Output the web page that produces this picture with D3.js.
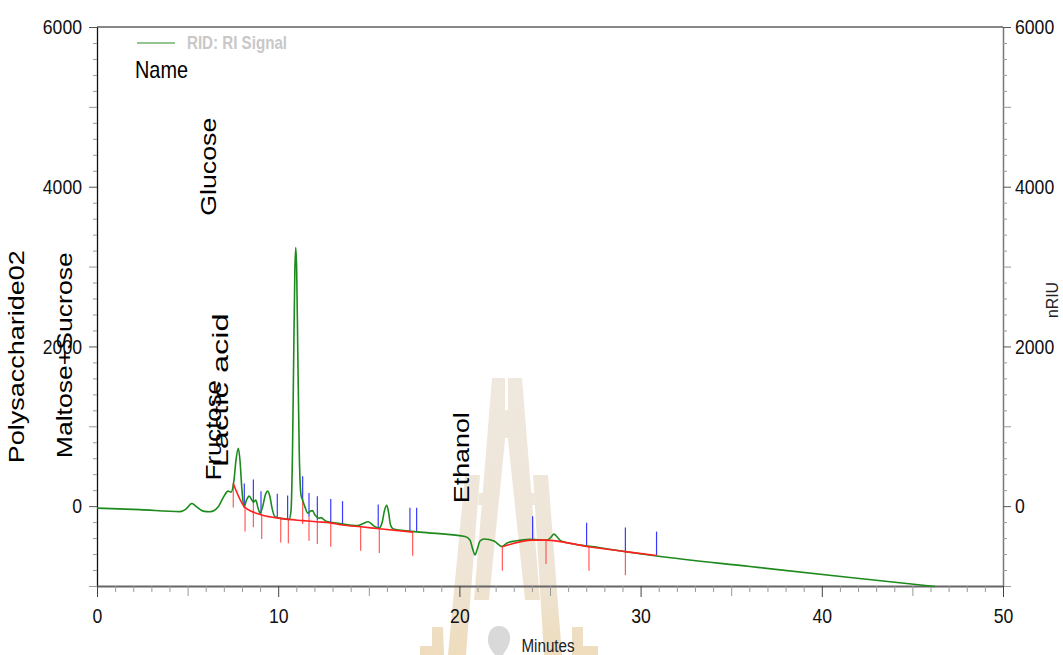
<!DOCTYPE html>
<html>
<head>
<meta charset="utf-8">
<script src="https://cdn.jsdelivr.net/npm/d3@7"></script>
<style>
  body { margin: 0; background: #fff; }
  svg { display: block; font-family: "Liberation Sans Narrow", "Arial Narrow", "Liberation Sans", Arial, sans-serif; }
</style>
</head>
<body>
<script>
// RID: RI Signal (minutes, nRIU)
const signalTime = [0, 2.37, 4.58, 4.91, 5.23, 5.52, 5.85, 6.24, 6.68, 7.01,
	7.23, 7.40, 7.56, 7.67, 7.80, 7.89, 8.00, 8.11, 8.25, 8.40,
	8.55, 8.64, 8.76, 8.89, 9.00, 9.16, 9.30, 9.42, 9.55, 9.66,
	9.82, 10.21, 10.60, 10.71, 10.79, 10.86, 10.92, 10.97, 11.02, 11.08,
	11.16, 11.26, 11.35, 11.48, 11.64, 11.78, 11.89, 12.03, 12.25, 12.36,
	12.64, 13.41, 14.40, 14.62, 14.97, 15.29, 15.56, 15.73, 15.87, 15.99,
	16.09, 16.20, 16.36, 17.83, 20.31, 20.58, 20.75, 20.86, 20.97, 21.14,
	21.36, 21.91, 22.35, 22.63, 23.07, 23.90, 24.83, 25.06, 25.22, 25.39,
	25.61, 27.76, 30.89, 36.04, 41.56, 46.25];
const signalValue = [-25, -44, -69, -37, 34, -12, -62, -71, -12, 125,
	188, 175, 325, 575, 725, 575, 200, -12, 75, 125,
	75, 50, 75, -25, -88, 12, 150, 188, 112, -25,
	-131, -156, -166, -50, 700, 1950, 2950, 3237, 2950, 1950,
	700, 137, 75, -12, -88, -62, -56, -112, -150, -144,
	-188, -219, -244, -225, -196, -250, -275, -212, -50, 12,
	-75, -237, -287, -325, -381, -425, -550, -612, -550, -437,
	-412, -437, -506, -462, -437, -416, -425, -387, -350, -387,
	-437, -521, -625, -756, -894, -1006];

// integration baselines (red)
const baseATime = [7.52, 8.17, 9.00, 9.82, 10.56, 11.35, 12.12, 12.90, 13.55, 14.57, 15.58, 17.44];
const baseAValue = [284, -16, -104, -144, -166, -181, -196, -209, -237, -259, -284, -325];
const baseBTime = [22.37, 24.04, 24.78, 27.15, 29.16, 30.88];
const baseBValue = [-509, -425, -425, -509, -569, -619];

// peak start / end markers
const blueTime = [8.13, 8.63, 9.05, 9.95, 10.52, 11.35, 11.70, 12.16, 12.90, 13.55, 15.52, 17.27, 17.64, 24.04, 27.02, 29.16, 30.88];
const blueValue = [-16, 34, -112, -146, -166, 75, -134, -175, -209, -237, -279, -321, -321, -425, -509, -569, -619];
const redTime = [7.52, 8.17, 8.63, 9.09, 10.14, 10.56, 11.35, 11.70, 12.16, 12.90, 14.55, 15.58, 17.42, 22.37, 24.78, 27.15, 29.16];
const redValue = [284, -16, 37, -112, -154, -166, 75, -134, -175, -209, -259, -287, -321, -509, -425, -509, -566];

// peak names and where their text sits
const peakNames = ["Polysaccharide02", "Maltose+Sucrose", "Glucose", "Fructose", "Lactic acid", "Ethanol"];
const peakLabelTime = [-4.03, -1.38, 6.59, 6.87, 7.23, 20.53];
const peakLabelValue = [537, 600, 3637, 325, 487, 37];
const peakLabelLength = [213, 206, 98, 100, 154, 91];

const xTickLabels = [0, 10, 20, 30, 40, 50];
const yTickLabels = [0, 2000, 4000, 6000];

const width = 1063, height = 655;
const svg = d3.select("body").append("svg")
	.attr("width", width)
	.attr("height", height);

const x = d3.scaleLinear().domain([0, 50]).range([97, 1003]);
const y = d3.scaleLinear().domain([-1000, 6000]).range([586, 27]);

// watermark behind everything (decoration, pixel coordinates)
const grad = svg.append("defs").append("linearGradient")
	.attr("id", "wm").attr("gradientUnits", "userSpaceOnUse")
	.attr("x1", 0).attr("y1", 378).attr("x2", 0).attr("y2", 655);
grad.append("stop").attr("offset", "0%").attr("stop-color", "#efe8de");
grad.append("stop").attr("offset", "70%").attr("stop-color", "#eee5d6");
grad.append("stop").attr("offset", "100%").attr("stop-color", "#eedcbc");
const wm = svg.append("g").attr("fill", "url(#wm)");
const wmShapes = [
	[[492, 378], [505, 378], [505, 440], [489, 600], [474, 600]],
	[[508, 378], [522, 378], [540, 600], [525, 600], [508, 440]],
	[[505, 410], [508, 410], [508, 438], [505, 438]],
	[[465, 475], [480, 475], [466, 655], [448, 655]],
	[[533, 475], [548, 475], [562, 655], [544, 655]],
	[[479, 493], [498, 493], [497, 505], [478, 505]],
	[[516, 493], [534, 493], [535, 505], [517, 505]],
	[[432, 627], [443, 627], [444, 655], [420, 655], [420, 646], [432, 646]],
	[[572, 627], [583, 627], [583, 646], [598, 646], [598, 655], [572, 655]]
];
wm.selectAll("path").data(wmShapes).join("path")
	.attr("d", d => "M" + d.join("L") + "Z");
svg.append("path")
	.attr("d", "M499,626 C506,626 511,632 510,640 C509,647 505,651 503,655 L495,655 C492,651 488,647 488,640 C488,632 492,626 499,626 Z")
	.attr("fill", "#d9d9d9");

// axes
const yTicks = d3.range(-1000, 6001, 200);
const fmtY = d => yTickLabels.includes(d) ? d : "";

const left = svg.append("g")
	.attr("transform", "translate(97,0)")
	.call(d3.axisLeft(y).tickValues(yTicks).tickFormat(fmtY).tickSize(8).tickPadding(7).tickSizeOuter(0));
left.select(".domain").attr("stroke", "#111").attr("stroke-width", 1.3);
left.selectAll(".tick line")
	.attr("x2", d => d % 1000 === 0 ? -8 : -4)
	.attr("stroke", d => d % 2000 === 0 ? "#555" : "#999");

const right = svg.append("g")
	.attr("transform", "translate(1003,0)")
	.call(d3.axisRight(y).tickValues(yTicks).tickFormat(fmtY).tickSize(8).tickPadding(4).tickSizeOuter(0));
right.select(".domain").attr("stroke", "#777").attr("stroke-width", 1.5);
right.selectAll(".tick line")
	.attr("x2", d => d % 1000 === 0 ? 8 : 4)
	.attr("stroke", d => d % 2000 === 0 ? "#555" : "#999");

const bottom = svg.append("g")
	.attr("transform", "translate(0,586)")
	.call(d3.axisBottom(x).tickValues(d3.range(0, 51, 1))
		.tickFormat(d => xTickLabels.includes(d) ? d : "")
		.tickSize(11).tickPadding(11).tickSizeOuter(0));
bottom.select(".domain").attr("stroke", "#666").attr("stroke-width", 2);
bottom.selectAll(".tick line")
	.attr("y2", d => d % 10 === 0 ? 11 : d % 5 === 0 ? 10 : 6)
	.attr("stroke", d => d % 10 === 0 ? "#444" : "#999");

// narrow digits: squeeze each label to the width seen in the picture
[left, right, bottom].forEach(g => g.selectAll(".tick text")
	.attr("font-size", 21)
	.attr("font-family", null)
	.attr("fill", "#111")
	.each(function () {
		const s = this.textContent;
		if (s) d3.select(this).attr("textLength", s.length * 9.8).attr("lengthAdjust", "spacingAndGlyphs");
	}));

// top frame line
svg.append("line")
	.attr("x1", x(0)).attr("x2", x(50))
	.attr("y1", y(6000)).attr("y2", y(6000))
	.attr("stroke", "#111").attr("stroke-width", 1.2);

svg.append("text")
	.attr("x", 548).attr("y", 652)
	.attr("text-anchor", "middle")
	.attr("font-size", 18)
	.attr("fill", "#222")
	.attr("textLength", 53).attr("lengthAdjust", "spacingAndGlyphs")
	.text("Minutes");

svg.append("text")
	.attr("transform", "translate(1058,300) rotate(-90)")
	.attr("text-anchor", "middle")
	.attr("font-size", 17)
	.attr("fill", "#222")
	.attr("textLength", 36).attr("lengthAdjust", "spacingAndGlyphs")
	.text("nRIU");

// legend
svg.append("line")
	.attr("x1", 137).attr("x2", 175).attr("y1", 43).attr("y2", 43)
	.attr("stroke", "#2a8a2a").attr("stroke-width", 1.2);
svg.append("text")
	.attr("x", 187).attr("y", 49)
	.attr("font-size", 18).attr("font-weight", "bold")
	.attr("fill", "#c8c8c8")
	.attr("textLength", 100).attr("lengthAdjust", "spacingAndGlyphs")
	.text("RID: RI Signal");
svg.append("text")
	.attr("x", 135).attr("y", 78)
	.attr("font-size", 24)
	.attr("fill", "#000")
	.attr("textLength", 53).attr("lengthAdjust", "spacingAndGlyphs")
	.text("Name");

// peak names, rotated
svg.append("g").selectAll("text")
	.data(peakNames)
	.join("text")
	.attr("transform", (d, i) => `translate(${x(peakLabelTime[i])},${y(peakLabelValue[i])}) rotate(-90)`)
	.attr("font-size", 22)
	.attr("fill", "#000")
	.attr("textLength", (d, i) => peakLabelLength[i])
	.attr("lengthAdjust", "spacingAndGlyphs")
	.text(d => d);

// peak markers
const tickLen = 300;
svg.append("g").selectAll("line")
	.data(blueTime)
	.join("line")
	.attr("x1", d => x(d)).attr("x2", d => x(d))
	.attr("y1", (d, i) => y(blueValue[i])).attr("y2", (d, i) => y(blueValue[i] + tickLen))
	.attr("stroke", "#3a3aff").attr("stroke-width", 1.2);
svg.append("g").selectAll("line")
	.data(redTime)
	.join("line")
	.attr("x1", d => x(d)).attr("x2", d => x(d))
	.attr("y1", (d, i) => y(redValue[i])).attr("y2", (d, i) => y(redValue[i] - tickLen))
	.attr("stroke", "#ff5a5a").attr("stroke-width", 1.2);

// signal
const line = d3.line()
	.x(d => x(d[0]))
	.y(d => y(d[1]))
	.curve(d3.curveMonotoneX);

svg.append("path")
	.datum(d3.zip(signalTime, signalValue))
	.attr("fill", "none")
	.attr("stroke", "#1c8a1c")
	.attr("stroke-width", 1.6)
	.attr("d", line);

// baselines over the signal
const baseLine = d3.line().x(d => x(d[0])).y(d => y(d[1])).curve(d3.curveMonotoneX);
[[baseATime, baseAValue], [baseBTime, baseBValue]].forEach(([t, v]) => {
	svg.append("path")
		.datum(d3.zip(t, v))
		.attr("fill", "none")
		.attr("stroke", "#ff2020")
		.attr("stroke-width", 1.6)
		.attr("d", baseLine);
});
</script>
</body>
</html>
